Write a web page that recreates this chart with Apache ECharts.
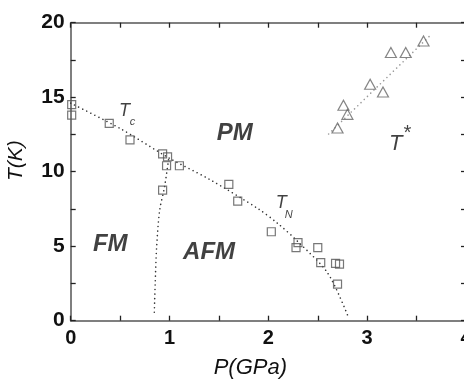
<!DOCTYPE html>
<html>
<head>
<meta charset="utf-8">
<script src="https://cdn.jsdelivr.net/npm/echarts@6/dist/echarts.min.js"></script>
<style>html,body{margin:0;padding:0;background:#fff}#c{width:464px;height:385px}</style>
</head>
<body>
<div id="c"></div>
<script>
// Tc / TN data (squares)
var sqP = [0.01, 0.01, 0.39, 0.60, 0.93, 0.98, 0.97, 1.10, 0.93, 1.60, 1.69, 2.03, 2.30, 2.28, 2.50, 2.53, 2.68, 2.72, 2.70];
var sqT = [14.5, 13.8, 13.25, 12.13, 11.19, 11.0, 10.4, 10.4, 8.77, 9.15, 8.03, 5.97, 5.24, 4.9, 4.9, 3.9, 3.85, 3.8, 2.46];
// T* data (triangles)
var triP = [2.70, 2.80, 2.76, 3.03, 3.16, 3.24, 3.39, 3.57];
var triT = [12.93, 13.85, 14.46, 15.87, 15.35, 18.0, 18.0, 18.77];
// Guide lines
var tcLineP = [0, 0.5, 1.0, 1.4, 1.9, 2.1, 2.3, 2.6, 2.8];
var tcLineT = [14.6, 12.9, 10.9, 9.5, 7.5, 6.5, 5.3, 3.2, 0.4];
var fmLineP = [0.99, 0.95, 0.90, 0.87, 0.855, 0.845];
var fmLineT = [10.8, 9.0, 7.4, 5.0, 2.5, 0.3];
var tsLineP = [2.61, 3.65];
var tsLineT = [12.53, 19.22];
// Region labels
var regionNames = ['PM', 'FM', 'AFM'];
var regionP = [1.66, 0.40, 1.40];
var regionT = [12.6, 5.15, 4.58];
// Axis ticks
var xTicks = [0, 1, 2, 3, 4];
var yTicks = [0, 5, 10, 15, 20];

function pairs(a, b) { return a.map(function (v, i) { return [v, b[i]]; }); }

var font = 'Liberation Sans, Arial, sans-serif';
function ax(extra) {
  return Object.assign({
    axisLine: { show: true, onZero: false, lineStyle: { color: '#555', width: 1.5 } },
    axisTick: { show: true, inside: true, length: 5, lineStyle: { color: '#222', width: 1.3 } },
    minorTick: { show: true, splitNumber: 2, length: 5, lineStyle: { color: '#222', width: 1.3 } },
    splitLine: { show: false },
    minorSplitLine: { show: false }
  }, extra);
}

var dotStyle = function (c) { return { color: c, width: 1.6, type: [0.01, 4.5], cap: 'round' }; };

var chart = echarts.init(document.getElementById('c'), null, { renderer: 'canvas' });
chart.setOption({
  animation: false,
  textStyle: { fontFamily: font },
  grid: { left: 70.7, right: -2, top: 22.7, bottom: 64.3, containLabel: false, outerBoundsMode: 'none' },
  xAxis: [
    ax({ type: 'value', position: 'bottom', min: xTicks[0], max: xTicks[xTicks.length - 1], interval: 1,
      axisLabel: { fontSize: 20, fontWeight: 'bold', color: '#111', margin: 8, fontFamily: font, hideOverlap: false },
      name: 'P(GPa)', nameLocation: 'middle', nameGap: 36,
      nameTextStyle: { fontSize: 22, fontStyle: 'italic', color: '#111', fontFamily: font, padding: [0, 36, 0, 0] } }),
    ax({ type: 'value', position: 'top', min: 0, max: 4, interval: 1, axisLabel: { show: false } })
  ],
  yAxis: [
    ax({ type: 'value', position: 'left', min: yTicks[0], max: yTicks[yTicks.length - 1], interval: 5,
      axisLabel: { fontSize: 21, fontWeight: 'bold', color: '#111', margin: 6, fontFamily: font },
      name: 'T(K)', nameLocation: 'middle', nameGap: 44, nameRotate: 90,
      nameTextStyle: { fontSize: 21, fontStyle: 'italic', color: '#111', fontFamily: font, padding: [0, 0, 0, 22] } }),
    ax({ type: 'value', position: 'right', min: 0, max: 20, interval: 5, axisLabel: { show: false } })
  ],
  series: [
    { type: 'line', data: pairs(tcLineP, tcLineT), showSymbol: false, smooth: 0.3, lineStyle: dotStyle('#333'), z: 1, silent: true },
    { type: 'line', data: pairs(fmLineP, fmLineT), showSymbol: false, smooth: 0.3, lineStyle: dotStyle('#333'), z: 1, silent: true },
    { type: 'line', data: pairs(tsLineP, tsLineT), showSymbol: false, lineStyle: dotStyle('#999'), z: 1, silent: true },
    { type: 'scatter', data: pairs(sqP, sqT), symbol: 'rect', symbolSize: 8,
      itemStyle: { color: 'rgba(255,255,255,0)', borderColor: '#555', borderWidth: 1.2 }, z: 3, clip: false },
    { type: 'scatter', data: pairs(triP, triT), symbol: 'triangle', symbolSize: [11, 10],
      itemStyle: { color: 'rgba(255,255,255,0)', borderColor: '#666', borderWidth: 1.2 }, z: 3 },
    { type: 'scatter', symbolSize: 0, z: 4,
      data: regionNames.map(function (n, i) { return { name: n, value: [regionP[i], regionT[i]] }; }),
      label: { show: true, position: 'inside', formatter: '{b}', fontSize: 24, fontStyle: 'italic', fontWeight: 'bold', color: '#111', fontFamily: font } },
    { type: 'scatter', symbolSize: 0, z: 4,
      data: [
        { name: 'T', value: [0.545, 14.1], label: { fontSize: 18 } },
        { name: 'c', value: [0.625, 13.36], label: { fontSize: 11 } },
        { name: 'T', value: [2.13, 7.87], label: { fontSize: 18 } },
        { name: 'N', value: [2.205, 7.1], label: { fontSize: 11 } },
        { name: 'T', value: [3.29, 11.9], label: { fontSize: 22 } },
        { name: '*', value: [3.40, 12.6], label: { fontSize: 20 } }
      ],
      label: { show: true, position: 'inside', formatter: '{b}', fontStyle: 'italic', color: '#111', fontFamily: font } }
  ]
});
</script>
</body>
</html>
